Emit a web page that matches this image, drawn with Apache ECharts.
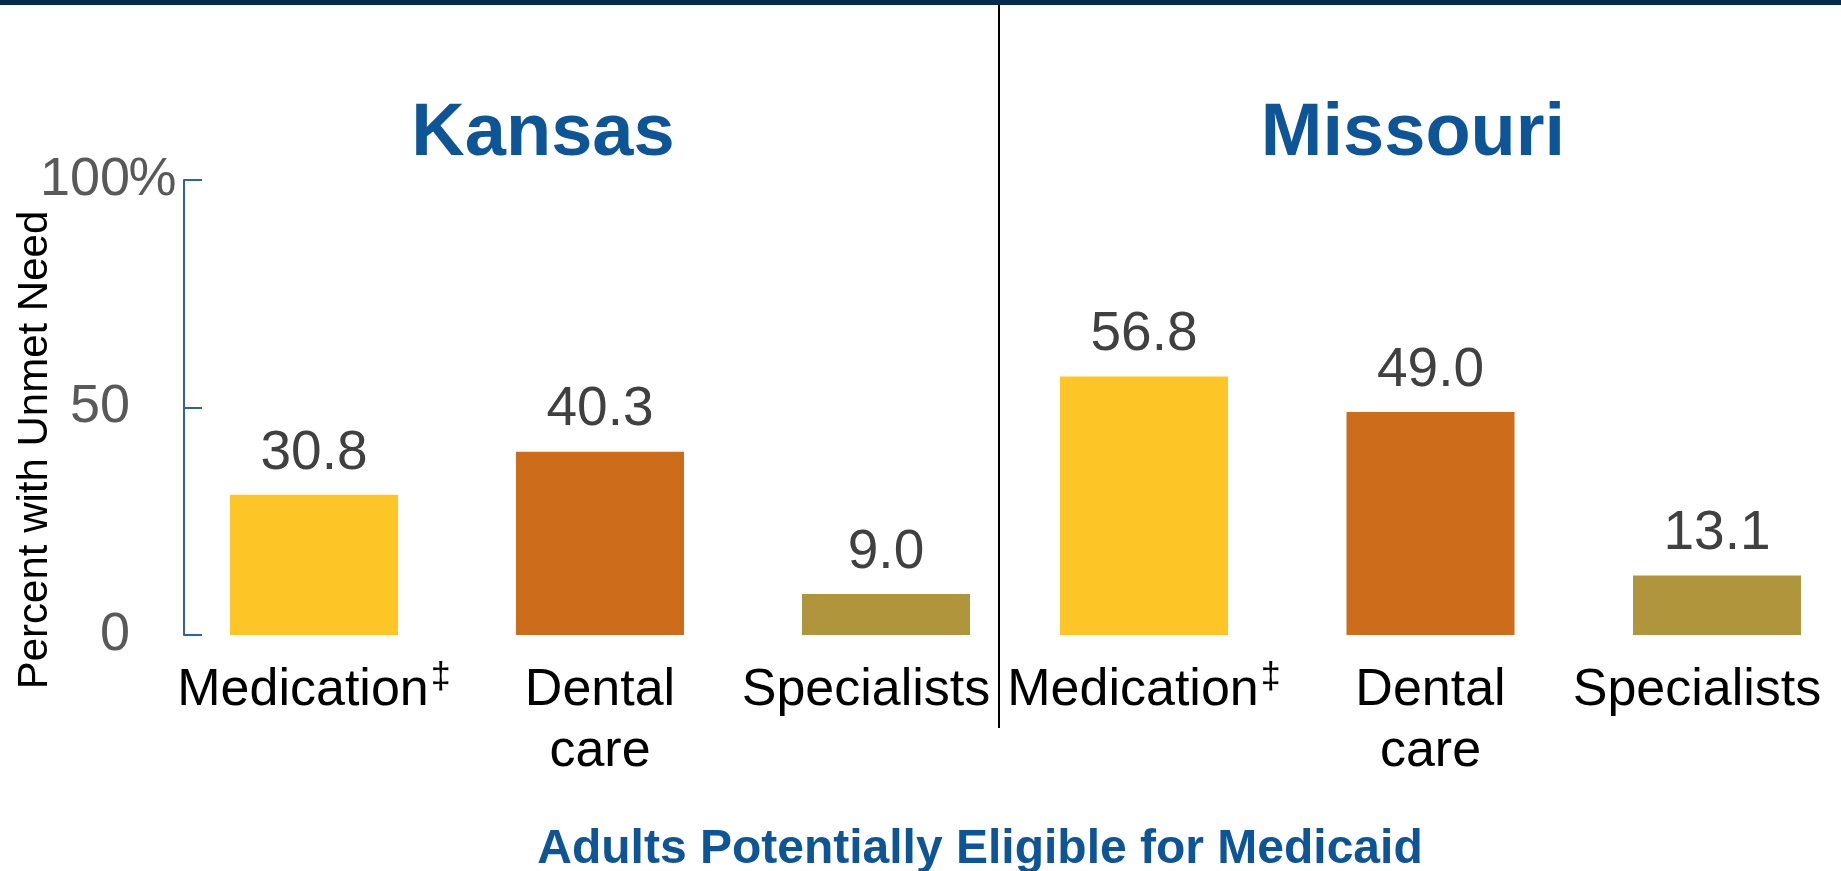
<!DOCTYPE html>
<html>
<head>
<meta charset="utf-8">
<style>
  html, body { margin: 0; padding: 0; background: #fff; }
  #main { width: 1841px; height: 871px; }
</style>
<script src="https://cdn.jsdelivr.net/npm/echarts@6/dist/echarts.min.js"></script>
</head>
<body>
<div id="main"></div>
<script>
// data
var categories = ['Medication‡', 'Dental\ncare', 'Specialists'];
var kansasValues = [30.8, 40.3, 9.0];
var missouriValues = [56.8, 49.0, 13.1];
var yTicks = [0, 50, 100];

var barColors = ['#FDC526', '#CD6D1C', '#B0953C'];
var font = 'Liberation Sans, Arial, sans-serif';

var myChart = echarts.init(document.getElementById('main'));

// superscript dagger, and nudge "Specialists" a bit left like the original
function catLabel(v) {
    if (v.indexOf('‡') >= 0) {
        return '{a|' + v.replace('‡', '') + '}{s|‡}';
    }
    if (v === 'Specialists') {
        return '{sp|' + v + '}';
    }
    return v;
}

var xLabel = {
    interval: 0,
    margin: 25,
    color: '#000',
    fontSize: 52,
    lineHeight: 61,
    fontFamily: font,
    formatter: catLabel,
    rich: {
        a: { fontSize: 52, lineHeight: 61, color: '#000', fontFamily: font },
        s: { fontSize: 36, lineHeight: 61, color: '#000', fontFamily: font, verticalAlign: 'top', padding: [0, 0, 0, 2] },
        sp: { fontSize: 52, lineHeight: 61, color: '#000', fontFamily: font, padding: [0, 40, 0, 0] }
    }
};

var valueLabel = {
    show: true,
    position: 'top',
    distance: 14,
    color: '#404040',
    fontSize: 55,
    fontFamily: font,
    formatter: function (p) { return p.value.toFixed(1); }
};

function barColor(p) { return barColors[p.dataIndex]; }

myChart.setOption({
    animation: false,
    title: [
        { text: 'Kansas', left: 538, top: 93, textAlign: 'center',
          textStyle: { fontSize: 74, fontWeight: 'bold', color: '#0E5597', fontFamily: font } },
        { text: 'Missouri', left: 1408, top: 93, textAlign: 'center',
          textStyle: { fontSize: 74, fontWeight: 'bold', color: '#0E5597', fontFamily: font } },
        { text: 'Adults Potentially Eligible for Medicaid', left: 975, top: 821, textAlign: 'center',
          textStyle: { fontSize: 48, fontWeight: 'bold', color: '#0E5597', fontFamily: font } }
    ],
    graphic: [
        { type: 'rect', left: 0, top: 0, shape: { width: 1841, height: 5 }, style: { fill: '#052A4F' } },
        { type: 'line', shape: { x1: 999, y1: 5, x2: 999, y2: 728 }, style: { stroke: '#000', lineWidth: 2 } },
        { type: 'text', x: 35, y: 450, rotation: Math.PI / 2,
          style: { text: 'Percent with Unmet Need', fill: '#000', fontSize: 42, fontFamily: font,
                   align: 'center', verticalAlign: 'middle' } }
    ],
    grid: [
        { left: 171, top: 180, width: 858, height: 455, outerBoundsMode: 'none' },
        { left: 1144, top: 180, width: 573, height: 455, outerBoundsMode: 'none' }
    ],
    xAxis: [
        { type: 'category', gridIndex: 0, data: categories,
          axisLine: { show: false }, axisTick: { show: false }, axisLabel: xLabel },
        { type: 'category', gridIndex: 1, data: categories, boundaryGap: false,
          axisLine: { show: false }, axisTick: { show: false }, axisLabel: xLabel }
    ],
    yAxis: [
        { type: 'value', gridIndex: 0, min: yTicks[0], max: yTicks[yTicks.length - 1], interval: 50,
          offset: -13,
          splitLine: { show: false },
          axisLine: { show: true, lineStyle: { color: '#2E62A3', width: 2 } },
          axisTick: { show: true, inside: true, length: 18, lineStyle: { color: '#2E62A3', width: 2 } },
          axisLabel: {
              margin: 9,
              fontSize: 54,
              color: '#595959',
              fontFamily: font,
              formatter: function (v) {
                  return v === 100 ? '{n|100}{p|%}' : '{n|' + v + '}{p|\u00a0}';
              },
              rich: {
                  n: { fontSize: 54, color: '#595959', fontFamily: font },
                  p: { fontSize: 54, color: '#595959', fontFamily: font, width: 45, align: 'left' }
              }
          } },
        { type: 'value', gridIndex: 1, min: yTicks[0], max: yTicks[yTicks.length - 1], show: false,
          splitLine: { show: false } }
    ],
    series: [
        { name: 'Kansas', type: 'bar', xAxisIndex: 0, yAxisIndex: 0, data: kansasValues,
          barWidth: 168, itemStyle: { color: barColor }, label: valueLabel },
        { name: 'Missouri', type: 'bar', xAxisIndex: 1, yAxisIndex: 1, data: missouriValues,
          barWidth: 168, clip: false, itemStyle: { color: barColor }, label: valueLabel }
    ]
});
</script>
</body>
</html>
